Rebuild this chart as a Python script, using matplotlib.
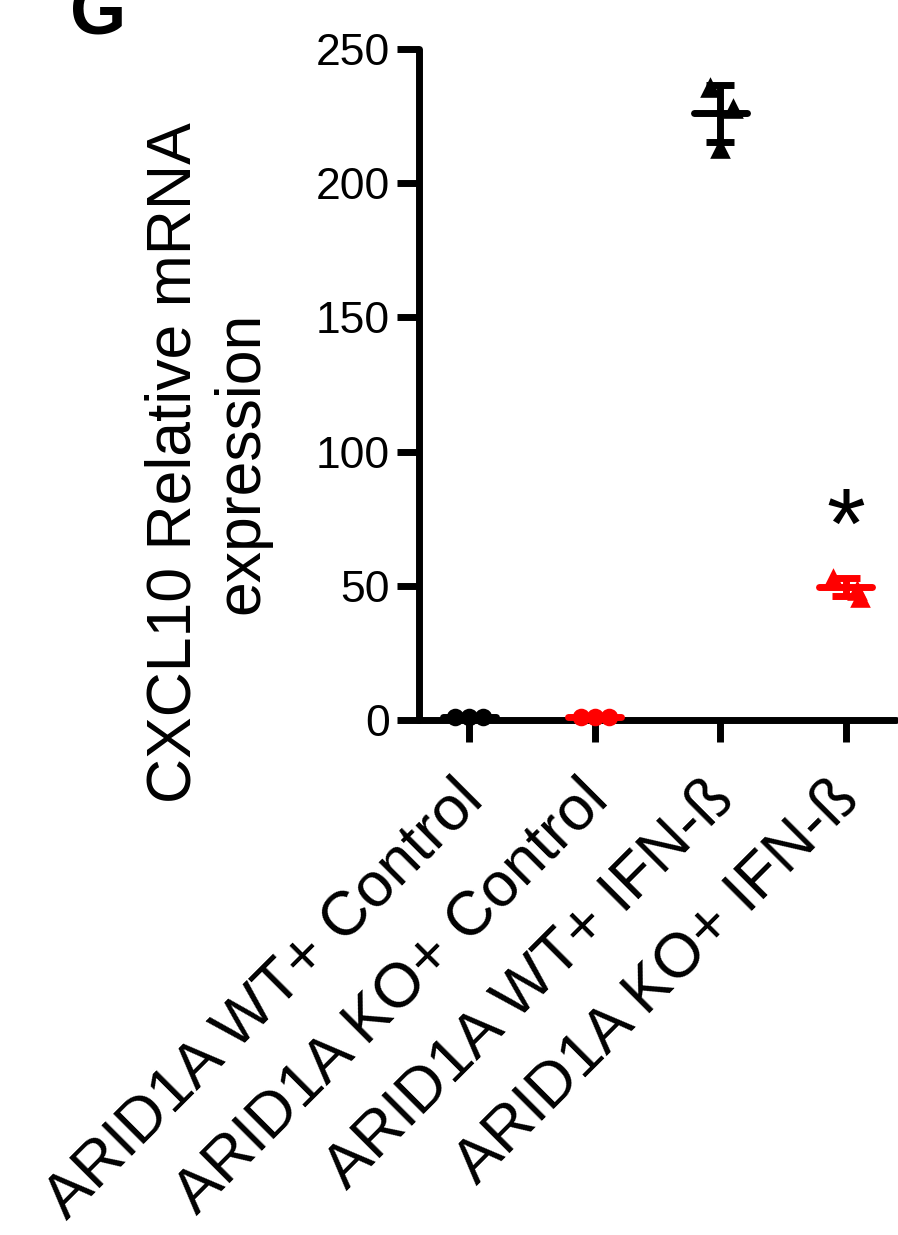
import matplotlib
matplotlib.use("Agg")
import matplotlib.pyplot as plt
from matplotlib.transforms import ScaledTranslation
import numpy as np

plt.rcParams['font.family'] = ['Liberation Sans', 'DejaVu Sans']

categories = ["ARID1A WT+ Control", "ARID1A KO+ Control", "ARID1A WT+ IFN-ß", "ARID1A KO+ IFN-ß"]
colors = ["black", "red", "black", "red"]
markers = ["o", "o", "^", "^"]
values = [[1.0, 1.0, 1.0], [1.0, 1.0, 1.0], [236.0, 228.0, 213.0], [53.0, 48.5, 46.0]]
jitter = [[-0.11, 0.0, 0.11], [-0.11, 0.0, 0.11], [-0.08, 0.1, 0.0], [-0.1, 0.09, 0.11]]
means = [1.0, 1.0, 226.0, 49.5]
errs = [0.2, 0.2, 10.6, 3.3]
yticks = [0, 50, 100, 150, 200, 250]
sig_label = "*"
sig_y = 60.3

fig = plt.figure(figsize=(8.98, 12.35), dpi=100)
ax = fig.add_axes([419/898, 515/1235, (896-419)/898, (720-49)/1235])

LW = 5.0
for i in range(4):
    xs = [i + j for j in jitter[i]]
    ms = 160 if markers[i] == 'o' else 220
    ax.scatter(xs, values[i], marker=markers[i], s=ms, color=colors[i], zorder=5, clip_on=False, linewidths=0)
    ax.errorbar(i, means[i], yerr=errs[i], color=colors[i], capsize=10, capthick=LW, elinewidth=LW, fmt='none', zorder=4)
    ax.plot([i - 0.21, i + 0.21], [means[i], means[i]], color=colors[i], lw=LW, solid_capstyle='round', zorder=4, clip_on=False)

ax.text(3, sig_y, sig_label, ha='center', va='baseline', fontsize=72)

ax.set_xlim(-0.4, 3.4)
ax.set_ylim(0, 250)
ax.set_yticks(yticks)
ax.set_xticks(range(4))
ax.set_xticklabels([])
off = ScaledTranslation(4/100, -70/100, fig.dpi_scale_trans)
for i, lab in enumerate(categories):
    ax.text(i, 0, lab, transform=ax.get_xaxis_transform() + off, ha='right', va='center',
            rotation=45, rotation_mode='anchor', fontsize=45)
ax.tick_params(axis='y', labelsize=32, width=LW, length=16, direction='out', pad=5)
ax.tick_params(axis='x', width=LW, length=16, direction='out')
for s in ['top', 'right']:
    ax.spines[s].set_visible(False)
for s in ['left', 'bottom']:
    ax.spines[s].set_linewidth(LW)
    ax.spines[s].set_capstyle('round')

fig.text(208/898, 1 - 463/1235, "CXCL10 Relative mRNA\nexpression", fontsize=45, rotation=90,
         ha='center', va='center', multialignment='center', linespacing=1.2)

fig.text(70/898, 1 - 33/1235, "G", fontsize=52, fontweight='bold', ha='left', va='baseline')

fig.savefig("out.png", dpi=100)
